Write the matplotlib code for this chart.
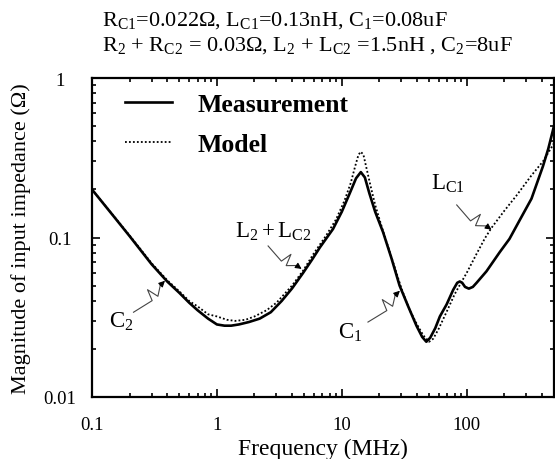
import numpy as np
import matplotlib
matplotlib.use('Agg')
from matplotlib import pyplot as plt

plt.rcParams['font.family'] = ['Liberation Serif', 'DejaVu Serif']
plt.rcParams['mathtext.fontset'] = 'custom'
plt.rcParams['mathtext.rm'] = 'Liberation Serif'
plt.rcParams['mathtext.it'] = 'Liberation Serif'

# measured impedance (MHz, ohm)
meas_f = [0.1, 0.15, 0.2, 0.3, 0.4, 0.5, 0.6, 0.7, 0.85, 1.0, 1.15, 1.3, 1.5, 1.8, 2.2, 2.7,
          3.3, 4.0, 4.9, 5.8, 6.7, 8.5, 10, 11.6, 13, 14.2, 15.3, 16.6, 18.5, 21.4, 25, 29,
          34, 39.6, 44, 47.5, 51, 56, 61, 69, 78, 84, 88, 92, 97, 104, 112, 120, 144, 184,
          220, 265, 330, 408, 450, 500]
meas_z = [0.200, 0.135, 0.102, 0.068, 0.053, 0.045, 0.039, 0.035, 0.031, 0.0285, 0.028, 0.028,
          0.0285, 0.0295, 0.031, 0.034, 0.040, 0.048, 0.060, 0.073, 0.087, 0.113, 0.145, 0.19,
          0.235, 0.257, 0.238, 0.19, 0.145, 0.108, 0.074, 0.050, 0.037, 0.028, 0.0238, 0.0222,
          0.0235, 0.027, 0.032, 0.038, 0.047, 0.052, 0.053, 0.052, 0.049, 0.0478, 0.049, 0.052,
          0.0614, 0.081, 0.098, 0.128, 0.175, 0.28, 0.36, 0.50]

# model impedance
model_f = [0.1, 0.2, 0.3, 0.4, 0.5, 0.6, 0.7, 0.85, 1.0, 1.2, 1.4, 1.7, 2.0, 2.5, 3.0, 4.0,
           4.9, 6.0, 7.5, 9.0, 10.5, 11.8, 12.8, 13.6, 14.2, 14.9, 15.8, 17, 18.5, 21, 25, 30,
           35, 40, 45, 50, 54, 60, 70, 80, 90, 100, 120, 140, 158, 200, 250, 330, 408, 450, 500]
model_z = [0.200, 0.103, 0.069, 0.054, 0.046, 0.040, 0.037, 0.033, 0.032, 0.0305, 0.030, 0.0305,
           0.032, 0.035, 0.039, 0.050, 0.062, 0.080, 0.103, 0.13, 0.17, 0.22, 0.28, 0.33, 0.345,
           0.33, 0.27, 0.21, 0.16, 0.115, 0.075, 0.048, 0.035, 0.0285, 0.0243, 0.0222, 0.0232,
           0.027, 0.035, 0.044, 0.052, 0.060, 0.079, 0.099, 0.115, 0.147, 0.183, 0.245, 0.30,
           0.34, 0.39]

# annotations: label, label position, arrow start, arrow tip
notes = [
    (r'C$_2$', (0.173, 0.030), (0.215, 0.034), (0.384, 0.0536)),
    (r'L$_2+$L$_{\mathrm{C2}}$', (2.81, 0.110), (2.57, 0.0885), (4.77, 0.0635)),
    (r'C$_1$', (11.6, 0.0256), (16.2, 0.0295), (29.2, 0.0464)),
    (r'L$_{\mathrm{C1}}$', (70.8, 0.22), (83.2, 0.16), (158, 0.112)),
]

fig = plt.figure(figsize=(5.55, 4.6), dpi=100)
ax = fig.add_axes([92 / 555, 1 - 398 / 460, 462 / 555, 319 / 460])

ax.plot(meas_f, meas_z, color='black', lw=1.9, label='Measurement')
ax.plot(model_f, model_z, color='black', lw=1.3, linestyle=(0, (1, 1.2)), label='Model')

ax.set_xscale('log')
ax.set_yscale('log')
ax.set_xlim(0.1, 500)
ax.set_ylim(0.01, 1)
ax.set_xticks([0.1, 1, 10, 100])
ax.set_xticklabels(['0.1', '1', '10', '100'])
ax.set_yticks([0.01, 0.1, 1])
ax.set_yticklabels(['0.01', '0.1', '1'], ha='center')
ax.tick_params(which='both', direction='in', top=True, right=True, labelsize=13.5, width=1.2)
ax.tick_params(which='major', length=6)
ax.tick_params(which='minor', length=3)
ax.tick_params(axis='y', pad=23)
ax.tick_params(axis='x', pad=14)
for s in ax.spines.values():
    s.set_linewidth(1.6)

ax.set_xlabel('Frequency (MHz)', fontsize=17, labelpad=3)
ax.set_ylabel('Magnitude of input impedance (\u03a9)', fontsize=16)
ax.yaxis.set_label_coords(-0.132, 0.5)

ax.legend(loc='upper left', bbox_to_anchor=(0.071, 0.952), frameon=False, borderpad=0,
          borderaxespad=0, handlelength=1.83, handletextpad=1.0, labelspacing=0.65,
          prop={'family': 'Liberation Serif', 'weight': 'bold', 'size': 18.5})

fig.text(102 / 555, 1 - 26 / 460, 'R$_{\\mathrm{C1}}$=0.022\u03a9, L$_{\\mathrm{C1}}$=0.13nH, C$_1$=0.08uF',
         fontsize=16, va='baseline')
fig.text(102 / 555, 1 - 51 / 460, 'R$_2$ + R$_{\\mathrm{C2}}$ = 0.03\u03a9, L$_2$ + L$_{\\mathrm{C2}}$ =1.5nH , C$_2$=8uF',
         fontsize=16, va='baseline')

fig.canvas.draw()
for label, txy, sxy, pxy in notes:
    ax.text(txy[0], txy[1], label, fontsize=16.5, ha='center', va='center')
    p0 = ax.transData.transform(sxy)
    p1 = ax.transData.transform(pxy)
    d = p1 - p0
    L = np.hypot(*d)
    u = d / L
    n = np.array([-u[1], u[0]])
    pts = [p0, p0 + 0.48 * L * u - 5 * n, p0 + 0.58 * L * u + 6 * n,
           p0 + 0.64 * L * u - 6 * n, p0 + 0.85 * L * u]
    pts = ax.transData.inverted().transform(np.array(pts))
    ax.plot(pts[:, 0], pts[:, 1], color='#444444', lw=0.8)
    ax.annotate('', xy=pxy, xytext=(pts[-1, 0], pts[-1, 1]),
                arrowprops=dict(arrowstyle='-|>', color='black', lw=0.8, mutation_scale=9,
                                shrinkA=0, shrinkB=0))

fig.savefig('out.png', dpi=100)
